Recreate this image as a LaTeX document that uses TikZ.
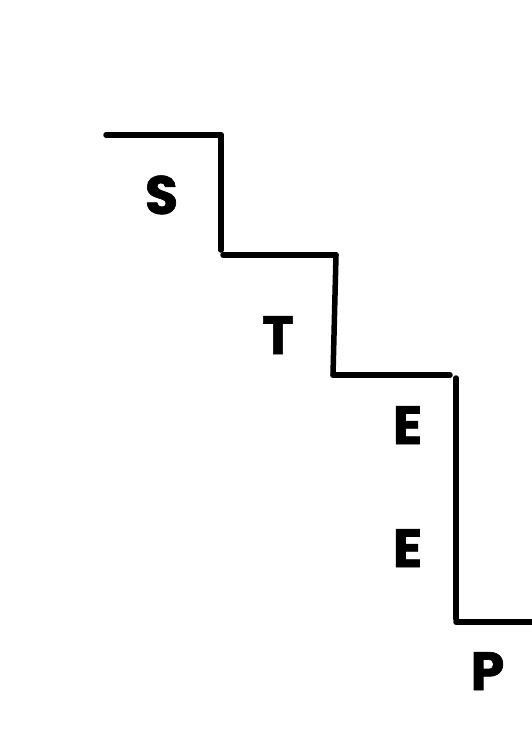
\documentclass[tikz,border=0pt]{standalone}
\usepackage{fontspec}
\setmainfont{Poppins}[BoldFeatures={FakeBold=1.2}]
\usepackage{tikz}
\usetikzlibrary{positioning,calc}

\tikzset{
  stair/.style={line width=5.5pt, line cap=round, black},
  letter/.style={anchor=base, inner sep=0pt, font=\fontsize{54}{54}\selectfont\bfseries}
}

\begin{document}
\begin{tikzpicture}[x=1pt, y=-1pt]
  \useasboundingbox (0,0) rectangle (531,751);

  % Stair corners
  \coordinate (s0) at (106,135);
  \coordinate (s1) at (221,135);
  \coordinate (s2) at (221,250);
  \coordinate (t0) at (223,255);
  \coordinate (t1) at (336,255);
  \coordinate (t2) at (333,375);
  \coordinate (e0) at (450,375);
  \coordinate (e1) at (456,378);
  \coordinate (e2) at (456,619);
  \coordinate (p0) at (456,622);
  \coordinate (p1) at (533,622);

  % Treads and risers
  \draw[stair] (s0) -- (s1);
  \draw[stair] (s1) -- (s2);
  \draw[stair] (t0) -- (t1);
  \draw[stair] (t1) -- (t2);
  \draw[stair] (t2) -- (e0);
  \draw[stair] (e1) -- (e2);
  \draw[stair] (p0) -- (p1);

  % Letters
  \node[letter] (ls) at (161.5,214) {S};
  \node[letter] (lt) at (278,354) {T};
  \node[letter] (le1) at (407.5,444) {E};
  \node[letter] (le2) at (407.5,567) {E};
  \node[letter] (lp) at (487.5,690) {P};
\end{tikzpicture}
\end{document}
